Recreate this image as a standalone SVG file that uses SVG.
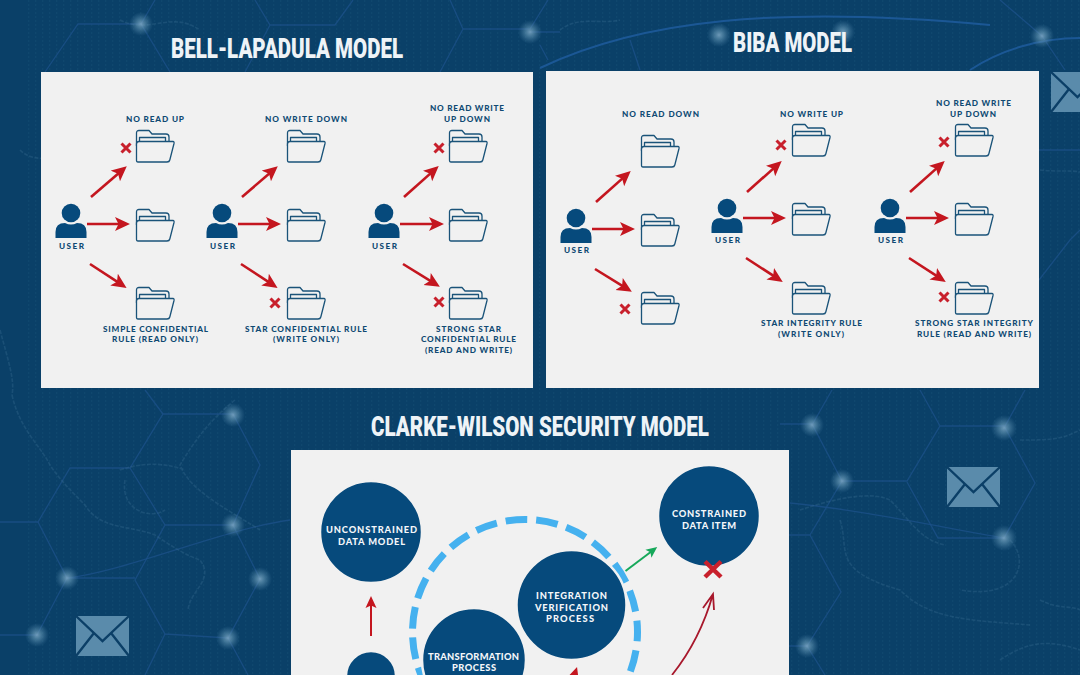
<svg xmlns="http://www.w3.org/2000/svg" xmlns:xlink="http://www.w3.org/1999/xlink" width="1080" height="675" viewBox="0 0 1080 675">
<style>
.hex{fill:none;stroke:#1c5088;stroke-width:1.3;opacity:.8}
.arc{fill:none;stroke:#1f5c9e;stroke-width:2;opacity:.85}
.map{fill:none;stroke:#3f7396;stroke-width:1.6;opacity:.3;stroke-dasharray:4 1.5;filter:url(#soft)}
.panel{fill:#f1f1f1}
.title{font-family:"Roboto","Liberation Sans",sans-serif;font-weight:900;font-size:28px;fill:#eef3f7}
.lab{font-family:"Lato","Open Sans",sans-serif;font-weight:900;font-size:8.2px;fill:#0f4a73}
.cl{font-family:"Lato","Open Sans",sans-serif;font-weight:900;font-size:9.3px;fill:#f4f7fa}
.usr{fill:#064a7c}
.fo{fill:none;stroke:#1a5379;stroke-width:1.3;stroke-linejoin:round}
.ff{fill:#f1f1f1;stroke:#1a5379;stroke-width:1.3;stroke-linejoin:round}
.arr{fill:none;stroke:#c4161f;stroke-width:2.6;marker-end:url(#head)}
.x{fill:none;stroke:#c8202c;stroke-width:3}
.bx{fill:none;stroke:#c8202c;stroke-width:4.5}
.circ{fill:#064a7c;stroke:#f1f1f1;stroke-width:2.5}
.env{fill:#5a8bab}
.envl{fill:none;stroke:#0b3f67;stroke-width:2.4}
</style>
<defs>
<filter id="soft"><feGaussianBlur stdDeviation=".7"/></filter>
<radialGradient id="glow"><stop offset="0" stop-color="#7fa9c6" stop-opacity=".85"/><stop offset=".4" stop-color="#679ab8" stop-opacity=".55"/><stop offset="1" stop-color="#4d83a8" stop-opacity="0"/></radialGradient>
<pattern id="grid" width="7" height="4" patternUnits="userSpaceOnUse"><rect x="0" y="0" width="1.2" height="2" fill="#2d6a90" opacity=".16"/></pattern>
<marker id="head" markerUnits="userSpaceOnUse" markerWidth="18" markerHeight="16" refX="10" refY="8" orient="auto"><path d="M0,1 L15,8 L0,15 L3.5,8 Z" fill="#c4161f"/></marker>
<marker id="greenhead" markerUnits="userSpaceOnUse" markerWidth="13" markerHeight="12" refX="7" refY="6" orient="auto"><path d="M0,1 L11,6 L0,11 L2.5,6 Z" fill="#16a85a"/></marker>
<marker id="uphead" markerUnits="userSpaceOnUse" markerWidth="13" markerHeight="12" refX="8" refY="6" orient="auto"><path d="M0,.5 L12,6 L0,11.5 L2.5,6 Z" fill="#c4161f"/></marker>
<g id="folder">
<path class="fo" d="M.5,16 V3 Q.5,.5 3,.5 H13 L16,4 H30 Q33,4 33,7 V11"/>
<path class="fo" d="M3.5,11 V7.5 H29.5 V11"/>
<path class="ff" d="M3,11.5 H37 Q38.4,11.5 38,13.5 L33.8,30 Q33.4,32 31,32 H2 Q.4,32 .5,30 V14 Q.5,11.5 3,11.5 Z"/>
</g>
<g id="user">
<circle cx="0" cy="0" r="9.3" class="usr"/>
<path class="usr" d="M-15.5,25 V19 Q-15.5,10 -6,10 Q0,13 6,10 Q15.5,10 15.5,19 V25 Z"/>
</g>
<g id="cross"><path class="x" d="M-4.5,-4.5 L4.5,4.5 M4.5,-4.5 L-4.5,4.5"/></g>
<g id="envelope">
<rect width="53" height="40" class="env"/>
<path class="envl" d="M0,0 L26.5,25 L53,0 M0,40 L18,17 M53,40 L35,17"/>
</g>
</defs>

<g id="background">
<rect width="1080" height="675" fill="#0a4068"/>
<rect x="24" width="1056" height="675" fill="url(#grid)"/>
<path class="hex" d="M0,522 H38 L70,468 H130 L163,414 H233 L260,465 L233,525 L165,525 L135,580 L165,634 L228,638 L260,579 L233,525"/>
<path class="hex" d="M38,522 L67,578 H135 M67,578 L37,635 M165,634 L145,675 M228,638 L248,675 M163,414 L145,390 M130,468 L165,525 M0,635 H37"/>
<path class="hex" d="M68,578 C130,570 220,530 290,520"/>
<path class="hex" d="M780,424 H812 L842,481 H907 L940,426 H1004 L1035,483 L1004,538 H938 L907,482 M842,481 L810,535 L841,592 L807,646 H789 M812,425 L832,390 M920,390 L940,426 M1004,428 L1025,390 M789,535 H810 M807,646 L825,675"/>
<path class="hex" d="M790,503 C860,510 930,525 1004,538"/>
<path class="hex" d="M45,72 L78,24 H141 L170,72 M141,24 L155,0 M255,0 L270,25 H335 L353,0 M270,25 L245,72 M450,0 L463,29 H530 L548,0 M463,29 L440,72 M530,32 H560"/>
<path class="arc" d="M540,68 C640,20 780,5 990,25 M970,70 C1000,50 1040,38 1080,38"/>
<path class="hex" d="M1000,0 L1042,36 L1065,70 M630,40 L640,70 M540,45 L548,60"/>
<path class="hex" d="M1039,150 H1080 M1039,280 L1070,240 L1080,230"/>
<path class="map" d="M12,395 C20,430 40,445 50,465 C60,480 70,490 85,505 C100,530 130,525 155,535 C170,545 185,555 200,560 C215,580 190,590 188,610"/>
<path class="map" d="M235,400 C210,420 195,440 180,465 C190,490 220,505 260,530 M120,470 C150,460 170,465 185,470 M125,480 C120,510 150,520 165,510"/>
<path class="map" d="M800,510 C830,500 870,490 890,500 C910,520 920,540 945,545 M840,520 C850,550 830,570 900,590 C930,620 970,620 1030,625 M1010,540 C1030,560 1020,600 960,590 M1040,600 C1060,610 1070,605 1080,610 M1000,660 C1030,640 1050,640 1080,650 M1020,440 C1050,440 1060,440 1080,430"/>
<path class="map" d="M20,150 C40,170 80,150 90,130 M120,20 C150,35 170,10 200,30 M560,30 C580,15 600,25 620,20"/>
<path class="map" d="M0,330 C8,360 15,380 12,395 M1040,170 C1060,172 1070,170 1080,172"/>
<g id="glows">
<circle cx="141" cy="24" r="12" fill="url(#glow)"/><circle cx="530" cy="32" r="12" fill="url(#glow)"/><circle cx="719" cy="35" r="12" fill="url(#glow)"/><circle cx="843" cy="32" r="12" fill="url(#glow)"/><circle cx="1042" cy="36" r="12" fill="url(#glow)"/>
<circle cx="233" cy="415" r="12" fill="url(#glow)"/><circle cx="233" cy="525" r="12" fill="url(#glow)"/><circle cx="67" cy="578" r="12" fill="url(#glow)"/><circle cx="37" cy="635" r="12" fill="url(#glow)"/><circle cx="228" cy="638" r="12" fill="url(#glow)"/><circle cx="260" cy="579" r="12" fill="url(#glow)"/>
<circle cx="812" cy="425" r="12" fill="url(#glow)"/><circle cx="842" cy="481" r="12" fill="url(#glow)"/><circle cx="1004" cy="428" r="13" fill="url(#glow)"/><circle cx="1004" cy="538" r="13" fill="url(#glow)"/><circle cx="807" cy="646" r="12" fill="url(#glow)"/>
</g>
<use href="#envelope" x="76" y="616"/>
<use href="#envelope" x="947" y="467"/>
<use href="#envelope" x="1051" y="72"/>
</g>

<text class="title" x="171" y="58" textLength="232" lengthAdjust="spacingAndGlyphs">BELL-LAPADULA MODEL</text>
<text class="title" x="733" y="52" textLength="119" lengthAdjust="spacingAndGlyphs">BIBA MODEL</text>
<text class="title" x="371" y="436" textLength="338" lengthAdjust="spacingAndGlyphs">CLARKE-WILSON SECURITY MODEL</text>

<rect class="panel" x="41" y="72" width="492" height="316"/>
<rect class="panel" x="546" y="71" width="493" height="317"/>
<rect class="panel" x="291" y="450" width="498" height="225"/>

<g id="connectors">
<path class="arr" d="M91,197 L123,169.4"/><path class="arr" d="M87,224 H125"/><path class="arr" d="M90,264 L122.4,285.2"/>
<path class="arr" d="M242,197 L274,169.4"/><path class="arr" d="M238,224 H276"/><path class="arr" d="M241,264 L273.4,285.2"/>
<path class="arr" d="M404,197 L435,169.4"/><path class="arr" d="M400,224 H439"/><path class="arr" d="M403,264 L435.6,284.2"/>
<path class="arr" d="M596,202 L627,174.4"/><path class="arr" d="M592,229 H630"/><path class="arr" d="M595,269 L627.6,289.2"/>
<path class="arr" d="M747,192 L778,164.4"/><path class="arr" d="M743,218 H781"/><path class="arr" d="M746,258 L778.6,279.2"/>
<path class="arr" d="M910,192 L941,164.4"/><path class="arr" d="M906,218 H944"/><path class="arr" d="M909,258 L941.6,279.2"/>
<path d="M371,636 V600" fill="none" stroke="#c4161f" stroke-width="2" marker-end="url(#uphead)"/>
<path d="M625.5,571 L654,549.5" fill="none" stroke="#16a85a" stroke-width="2" marker-end="url(#greenhead)"/>
<path d="M672,675 Q700,640 713,594 M703,608 L713,594 L714,610" fill="none" stroke="#a8182c" stroke-width="1.8"/>
</g>

<g id="marks">
<use href="#cross" x="126" y="148"/><use href="#cross" x="439" y="148"/><use href="#cross" x="275" y="303"/><use href="#cross" x="439" y="302"/>
<use href="#cross" x="781" y="145"/><use href="#cross" x="944" y="142"/><use href="#cross" x="625" y="309"/><use href="#cross" x="944" y="297"/>
</g>

<g id="blp-user-1"><use href="#user" x="71" y="213"/><text class="lab" x="59" y="249" textLength="25">USER</text></g>
<g id="blp-user-2"><use href="#user" x="222" y="213"/><text class="lab" x="210" y="249" textLength="25">USER</text></g>
<g id="blp-user-3"><use href="#user" x="384" y="213"/><text class="lab" x="372" y="249" textLength="25">USER</text></g>
<g id="blp-f1"><text class="lab" x="126" y="122" textLength="58">NO READ UP</text><use href="#folder" x="136" y="130"/></g>
<g id="blp-f2"><use href="#folder" x="136" y="209"/></g>
<g id="blp-f3"><use href="#folder" x="136" y="287"/><text class="lab" x="103" y="332" textLength="105">SIMPLE CONFIDENTIAL</text><text class="lab" x="112" y="342" textLength="86">RULE (READ ONLY)</text></g>
<g id="blp-f4"><text class="lab" x="265" y="122" textLength="82">NO WRITE DOWN</text><use href="#folder" x="287" y="130"/></g>
<g id="blp-f5"><use href="#folder" x="287" y="209"/></g>
<g id="blp-f6"><use href="#folder" x="287" y="287"/><text class="lab" x="245" y="332" textLength="122">STAR CONFIDENTIAL RULE</text><text class="lab" x="273" y="342" textLength="66">(WRITE ONLY)</text></g>
<g id="blp-f7"><text class="lab" x="430" y="111" textLength="74">NO READ WRITE</text><text class="lab" x="444" y="122" textLength="46">UP DOWN</text><use href="#folder" x="449" y="130"/></g>
<g id="blp-f8"><use href="#folder" x="449" y="209"/></g>
<g id="blp-f9"><use href="#folder" x="449" y="287"/><text class="lab" x="436" y="332" textLength="65">STRONG STAR</text><text class="lab" x="421" y="342" textLength="95">CONFIDENTIAL RULE</text><text class="lab" x="425" y="353" textLength="87">(READ AND WRITE)</text></g>

<g id="biba-user-1"><use href="#user" x="576" y="218"/><text class="lab" x="564" y="253" textLength="25">USER</text></g>
<g id="biba-user-2"><use href="#user" x="727" y="208"/><text class="lab" x="715" y="243" textLength="25">USER</text></g>
<g id="biba-user-3"><use href="#user" x="890" y="208"/><text class="lab" x="878" y="243" textLength="25">USER</text></g>
<g id="biba-f1"><text class="lab" x="622" y="116.5" textLength="77">NO READ DOWN</text><use href="#folder" x="641" y="135"/></g>
<g id="biba-f2"><use href="#folder" x="641" y="214"/></g>
<g id="biba-f3"><use href="#folder" x="641" y="292"/></g>
<g id="biba-f4"><text class="lab" x="780" y="116.5" textLength="63">NO WRITE UP</text><use href="#folder" x="792" y="124"/></g>
<g id="biba-f5"><use href="#folder" x="792" y="203"/></g>
<g id="biba-f6"><use href="#folder" x="792" y="282"/><text class="lab" x="761" y="326" textLength="101">STAR INTEGRITY RULE</text><text class="lab" x="778" y="337" textLength="66">(WRITE ONLY)</text></g>
<g id="biba-f7"><text class="lab" x="936" y="106" textLength="75">NO READ WRITE</text><text class="lab" x="950" y="116.5" textLength="46">UP DOWN</text><use href="#folder" x="955" y="124"/></g>
<g id="biba-f8"><use href="#folder" x="955" y="203"/></g>
<g id="biba-f9"><use href="#folder" x="955" y="282"/><text class="lab" x="915" y="326" textLength="118">STRONG STAR INTEGRITY</text><text class="lab" x="917" y="337" textLength="114">RULE (READ AND WRITE)</text></g>

<g id="ring"><circle cx="525" cy="632" r="112.5" fill="none" stroke="#45b1ef" stroke-width="7" stroke-dasharray="21.7 9.03" stroke-dashoffset="12.2"/></g>
<g id="node-unconstrained"><circle class="circ" cx="371" cy="532" r="51"/><text class="cl" x="326" y="533" textLength="91">UNCONSTRAINED</text><text class="cl" x="338" y="545" textLength="67">DATA MODEL</text></g>
<g id="node-constrained"><circle class="circ" cx="709" cy="516" r="51"/><text class="cl" x="672" y="517" textLength="74">CONSTRAINED</text><text class="cl" x="682" y="529" textLength="54">DATA ITEM</text></g>
<g id="node-integration"><circle class="circ" cx="571.5" cy="605" r="55"/><text class="cl" x="536" y="599" textLength="71">INTEGRATION</text><text class="cl" x="535" y="611" textLength="73">VERIFICATION</text><text class="cl" x="546" y="622" textLength="48">PROCESS</text></g>
<g id="node-transformation"><circle class="circ" cx="474" cy="660" r="52"/><text class="cl" x="428" y="660" textLength="91">TRANSFORMATION</text><text class="cl" x="452" y="671" textLength="44">PROCESS</text></g>
<g id="node-small"><circle class="circ" cx="371" cy="676" r="25"/></g>
<path class="bx" d="M705,561.5 L721,577 M721,561.5 L705,577"/>
<path d="M568,695 L575.5,671.7" fill="none" stroke="#c4161f" stroke-width="2.6" marker-end="url(#head)"/>
</svg>
